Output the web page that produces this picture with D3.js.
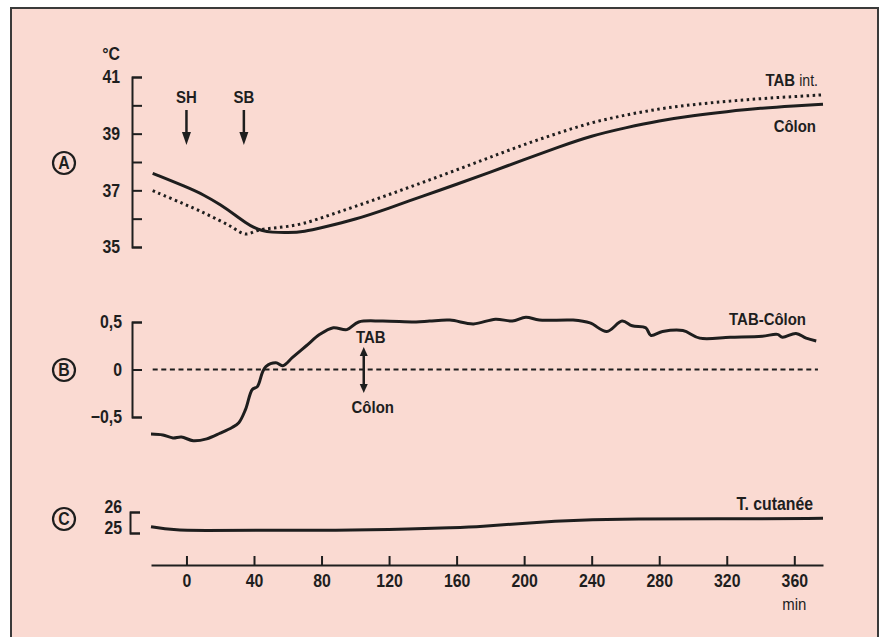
<!DOCTYPE html>
<html>
<head>
<meta charset="utf-8">
<script src="https://cdn.jsdelivr.net/npm/d3@7"></script>
<style>
body { margin: 0; background: #fff; }
text { font-family: 'Liberation Sans', Arial, sans-serif; font-weight: bold; fill: #1e1e1e; }
</style>
</head>
<body>
<div id="chart"></div>
<script>
// panel A : temperatures (°C)
const colonMin  = [-20, 0, 10, 20, 30, 35, 40, 45, 50, 60, 70, 80, 100, 120, 140, 160, 180, 200, 220, 240, 260, 280, 300, 320, 340, 360, 377];
const colonTemp = [37.6, 37.12, 36.85, 36.5, 36.08, 35.86, 35.68, 35.57, 35.52, 35.5, 35.54, 35.68, 35.97, 36.37, 36.8, 37.21, 37.64, 38.09, 38.52, 38.93, 39.21, 39.46, 39.64, 39.78, 39.9, 39.98, 40.04];
const tabMin  = [-20, 0, 10, 20, 27, 35, 41, 50, 60, 70, 80, 100, 120, 140, 160, 180, 200, 220, 240, 260, 280, 300, 320, 340, 360, 377];
const tabTemp = [36.99, 36.48, 36.22, 35.92, 35.72, 35.36, 35.6, 35.66, 35.72, 35.83, 36.03, 36.43, 36.85, 37.28, 37.72, 38.17, 38.62, 39.02, 39.4, 39.66, 39.88, 40.03, 40.14, 40.24, 40.31, 40.37];

// panel B : TAB - côlon
const diffMin = [-21, -14, -8, -3, 4, 12, 20, 27, 31, 35, 39, 42, 45, 47, 53, 57, 63, 71, 79, 87, 95, 102, 116, 136, 144, 156, 170, 183, 193, 201, 209, 229, 239, 249, 258, 264, 272, 275, 282, 294, 304, 322, 341, 350, 353, 361, 367, 373];
const diffVal = [-0.68, -0.69, -0.72, -0.71, -0.75, -0.73, -0.67, -0.61, -0.56, -0.42, -0.21, -0.18, -0.03, 0.03, 0.07, 0.04, 0.13, 0.25, 0.37, 0.44, 0.42, 0.5, 0.51, 0.5, 0.51, 0.52, 0.48, 0.53, 0.51, 0.55, 0.52, 0.52, 0.49, 0.4, 0.51, 0.46, 0.44, 0.36, 0.4, 0.41, 0.33, 0.34, 0.35, 0.37, 0.34, 0.38, 0.33, 0.3];

// panel C : température cutanée
const skinMin  = [-21, -8, 8, 47, 87, 136, 156, 174, 203, 233, 263, 322, 377];
const skinTemp = [25.3, 25.14, 25.11, 25.14, 25.11, 25.19, 25.25, 25.3, 25.49, 25.62, 25.67, 25.67, 25.7];

const xTicks = d3.range(0, 361, 40);
const tempTicks = [35, 36, 37, 38, 39, 40, 41];
const diffTicks = [-0.5, 0, 0.5];
const skinTicks = [25, 26];

const width = 887, height = 637;
const ink = '#1e1e1e';

const svg = d3.select('#chart')
    .append('svg')
    .attr('width', width)
    .attr('height', height);

svg.append('rect')
    .attr('x', 11).attr('y', 8)
    .attr('width', 867).attr('height', 660)
    .style('fill', '#fadad2')
    .style('stroke', '#3a3a3a')
    .style('stroke-width', 2);

let scaleX = d3.scaleLinear().domain([-21, 377]).range([151, 823]);
let scaleA = d3.scaleLinear().domain([35, 41]).range([247, 77]);
let scaleB = d3.scaleLinear().domain([-0.5, 0.5]).range([417, 322]);
let scaleC = d3.scaleLinear().domain([25, 26]).range([533, 512]);

function styleAxis(g) {
    g.selectAll('path, line').style('stroke', ink).style('stroke-width', 2);
    g.selectAll('text').style('font-size', '18px').style('fill', ink)
        .style('font-family', "'Liberation Sans', Arial, sans-serif")
        .style('font-weight', 'bold');
}

// y brackets
let axisA = d3.axisLeft(scaleA).tickValues(tempTicks).tickSize(-10).tickPadding(12)
    .tickFormat(d => d % 2 ? d : '');
svg.append('g').attr('transform', 'translate(132,0)').call(axisA).call(styleAxis);

let axisB = d3.axisLeft(scaleB).tickValues(diffTicks).tickSize(-10).tickPadding(10)
    .tickFormat(d => d === 0 ? '0' : (d < 0 ? '\u22120,5' : '0,5'));
svg.append('g').attr('transform', 'translate(132,0)').call(axisB).call(styleAxis);

let axisC = d3.axisLeft(scaleC).tickValues(skinTicks).tickSize(-10).tickPadding(8)
    .tickFormat(d3.format('d'));
svg.append('g').attr('transform', 'translate(130,0)').call(axisC).call(styleAxis)
    .selectAll('text').attr('y', -5);

// x axis
let xAxis = d3.axisBottom(scaleX).tickValues(xTicks).tickSize(-9).tickSizeOuter(0).tickPadding(9);
svg.append('g').attr('transform', 'translate(0,565)').call(xAxis).call(styleAxis);

svg.append('text').attr('x', scaleX(360)).attr('y', 610)
    .style('text-anchor', 'middle').style('font-size', '17px').style('font-weight', 'normal')
    .text('min');

svg.append('text').attr('x', 120).attr('y', 60)
    .style('text-anchor', 'end').style('font-size', '18px')
    .text('°C');

// circled panel letters
[['A', 163], ['B', 370], ['C', 519]].forEach(p => {
    svg.append('circle').attr('cx', 64).attr('cy', p[1]).attr('r', 11)
        .style('fill', 'none').style('stroke', ink).style('stroke-width', 2.2);
    svg.append('text').attr('x', 64).attr('y', p[1] + 6.5)
        .style('text-anchor', 'middle').style('font-size', '18px')
        .text(p[0]);
});

// curves
let lineA = d3.line().curve(d3.curveBasis).x(d => scaleX(d[0])).y(d => scaleA(d[1]));
let lineB = d3.line().curve(d3.curveCatmullRom).x(d => scaleX(d[0])).y(d => scaleB(d[1]));
let lineC = d3.line().curve(d3.curveBasis).x(d => scaleX(d[0])).y(d => scaleC(d[1]));

svg.append('path')
    .attr('d', lineA(d3.zip(tabMin, tabTemp)))
    .style('fill', 'none').style('stroke', ink)
    .style('stroke-width', 3).style('stroke-dasharray', '2.5,3.5');

svg.append('path')
    .attr('d', lineA(d3.zip(colonMin, colonTemp)))
    .style('fill', 'none').style('stroke', ink).style('stroke-width', 3);

svg.append('line')
    .attr('x1', scaleX(-20)).attr('x2', scaleX(374))
    .attr('y1', scaleB(0)).attr('y2', scaleB(0))
    .style('stroke', ink).style('stroke-width', 2).style('stroke-dasharray', '5,3.6');

svg.append('path')
    .attr('d', lineB(d3.zip(diffMin, diffVal)))
    .style('fill', 'none').style('stroke', ink).style('stroke-width', 3)
    .style('stroke-linejoin', 'round');

svg.append('path')
    .attr('d', lineC(d3.zip(skinMin, skinTemp)))
    .style('fill', 'none').style('stroke', ink).style('stroke-width', 3);

// SH / SB arrows
[['SH', 0], ['SB', 34]].forEach(a => {
    let x = scaleX(a[1]);
    svg.append('text').attr('x', x).attr('y', 103)
        .style('text-anchor', 'middle').style('font-size', '17px').text(a[0]);
    svg.append('line').attr('x1', x).attr('x2', x).attr('y1', 110).attr('y2', 134)
        .style('stroke', ink).style('stroke-width', 2.5);
    svg.append('path')
        .attr('d', `M${x - 4.5},132 L${x + 4.5},132 L${x},145 Z`)
        .style('fill', ink);
});

// TAB / Côlon double arrow
let ax = scaleX(105);
svg.append('line').attr('x1', ax).attr('x2', ax).attr('y1', 352).attr('y2', 388)
    .style('stroke', ink).style('stroke-width', 2.5);
svg.append('path').attr('d', `M${ax - 4},356 L${ax + 4},356 L${ax},347 Z`).style('fill', ink);
svg.append('path').attr('d', `M${ax - 4},384 L${ax + 4},384 L${ax},393 Z`).style('fill', ink);
svg.append('text').attr('x', ax + 7).attr('y', 343)
    .style('text-anchor', 'middle').style('font-size', '17px').text('TAB');
svg.append('text').attr('x', ax + 9).attr('y', 413)
    .style('text-anchor', 'middle').style('font-size', '17px').text('Côlon');

// series labels
let tabLabel = svg.append('text').attr('x', 818).attr('y', 86)
    .style('text-anchor', 'end').style('font-size', '17px');
tabLabel.append('tspan').text('TAB ');
tabLabel.append('tspan').style('font-weight', 'normal').style('font-size', '16px').text('int.');

svg.append('text').attr('x', 816).attr('y', 132)
    .style('text-anchor', 'end').style('font-size', '17px').text('Côlon');

svg.append('text').attr('x', 806).attr('y', 325)
    .style('text-anchor', 'end').style('font-size', '17px').text('TAB-Côlon');

svg.append('text').attr('x', 813).attr('y', 510)
    .style('text-anchor', 'end').style('font-size', '18px')
    .text('T. cutanée');

// condensed look: squeeze every label horizontally around its anchor
svg.selectAll('text').each(function() {
    let anchor = getComputedStyle(this).textAnchor;
    let origin = anchor === 'end' ? 'right center' : anchor === 'middle' ? 'center' : 'left center';
    d3.select(this)
        .style('transform-box', 'fill-box')
        .style('transform-origin', origin)
        .style('transform', 'scaleX(0.88)');
});
</script>
</body>
</html>
